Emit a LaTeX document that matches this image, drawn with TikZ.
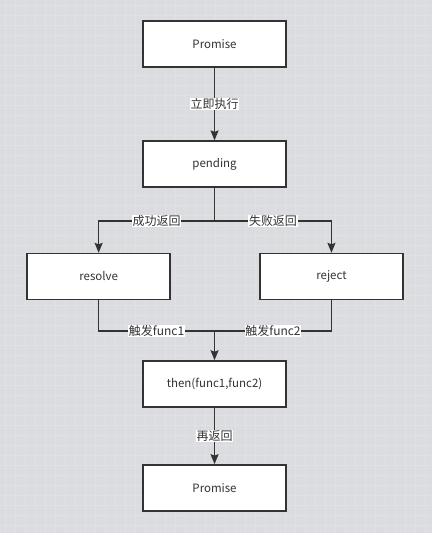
\documentclass[tikz,border=0pt]{standalone}
\usepackage{fontspec}
\setmainfont{Noto Sans CJK SC}
\usetikzlibrary{positioning,arrows.meta}
\definecolor{bggray}{RGB}{219,220,224}
\definecolor{gridgray}{RGB}{224,225,228}
\definecolor{inkgray}{RGB}{51,51,51}

\begin{document}
\begin{tikzpicture}[x=1pt,y=-1pt,
    box/.style={draw=inkgray, line width=1.4pt, fill=white, minimum width=143pt, minimum height=46pt, font=\fontsize{11.5}{13}\selectfont, text=inkgray},
    wire/.style={draw=inkgray, line width=1.4pt},
    flow/.style={wire, -{Stealth[length=10pt,width=8pt,inset=1.5pt]}},
    tag/.style={fill=white, inner sep=0.6pt, font=\fontsize{12}{13}\selectfont, text=inkgray}]
    % canvas with faint grid
    \fill[bggray] (0,0) rectangle (432,533);
    \foreach \gx in {5,15,...,425} \draw[gridgray, line width=0.4pt] (\gx,0) -- (\gx,533);
    \foreach \gy in {5,15,...,525} \draw[gridgray, line width=0.4pt] (0,\gy) -- (432,\gy);
    \useasboundingbox (0,0) rectangle (432,533);

    \node[box] (start) at (214.5,44) {Promise};
    \node[box] (pending) at (214.5,164) {pending};
    \node[box] (resolve) at (98.5,276.5) {resolve};
    \node[box] (reject) at (331.5,276.5) {reject};
    \node[box] (then) at (214.5,384) {then(func1,func2)};
    \node[box] (again) at (214.5,488) {Promise};

    \coordinate (split) at (214.5,221);
    \coordinate (join) at (214.5,331);

    \draw[flow] (start) -- node[tag] {立即执行} (pending);
    \draw[wire] (pending) -- (split);
    \draw[flow] (split) -| node[tag, pos=0.25] {成功返回} (resolve);
    \draw[flow] (split) -| node[tag, pos=0.25] {失败返回} (reject);
    \draw[wire] (resolve) |- node[tag, pos=0.75] {触发func1} (join);
    \draw[wire] (reject) |- node[tag, pos=0.75] {触发func2} (join);
    \draw[flow] (join) -- (then);
    \draw[flow] (then) -- node[tag] {再返回} (again);
\end{tikzpicture}
\end{document}
